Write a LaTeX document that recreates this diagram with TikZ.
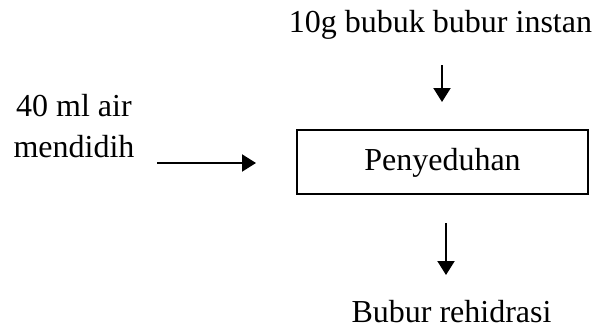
\documentclass[tikz,border=0pt]{standalone}
\usepackage{fontspec}
\setmainfont{Liberation Serif}
\usetikzlibrary{arrows.meta}
\begin{document}
\begin{tikzpicture}[x=1pt,y=-1pt,
  lbl/.style={font=\fontsize{32}{41}\selectfont, inner sep=0pt, anchor=base},
  flow/.style={line width=2pt, -{Triangle[length=14pt,width=17pt]}},
  procbox/.style={draw, line width=1.6pt}]
  \useasboundingbox (0,0) rectangle (593,327);
  % input / output labels
  \node[lbl] (bubuk) at (440.5,32) {10g bubuk bubur instan};
  \node[lbl, align=center] (air) at (74,157) {40 ml air\\mendidih};
  \node[lbl] (hasil) at (451.5,322) {Bubur rehidrasi};
  % process box
  \draw[procbox] (297,130) rectangle (588,194);
  \node[lbl] (seduh) at (442.5,170) {Penyeduhan};
  % arrow end points
  \coordinate (t1) at (442,65);  \coordinate (t2) at (442,102);
  \coordinate (l1) at (157,163); \coordinate (l2) at (256,163);
  \coordinate (b1) at (446,223); \coordinate (b2) at (446,275);
  \draw[flow] (t1) -- (t2);
  \draw[flow] (l1) -- (l2);
  \draw[flow] (b1) -- (b2);
\end{tikzpicture}
\end{document}
